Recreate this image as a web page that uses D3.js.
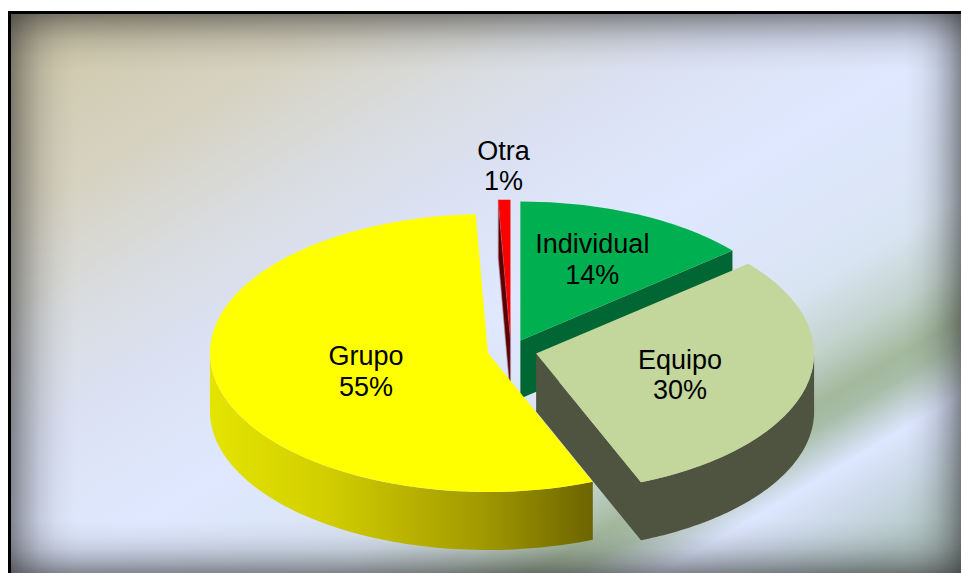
<!DOCTYPE html>
<html>
<head>
<meta charset="utf-8">
<script src="https://cdn.jsdelivr.net/npm/d3@7"></script>
<style>
  html, body { margin: 0; padding: 0; background: #fff; overflow: hidden; }
  svg { display: block; }
  text { font-family: "Liberation Sans", Arial, sans-serif; }
</style>
</head>
<body>
<div id="chart"></div>
<script>
// Data (labels round to 14 / 30 / 55 / 1 %)
const categories = ['Individual', 'Equipo', 'Grupo', 'Otra'];
const shares = [13.8, 30, 55.4, 0.7];

const topColors = ['#00b050', '#c3d69b', '#ffff00', '#ff0000'];
const wallColors = ['#006633', '#4f5440', 'url(#grupoWall)', '#5c0000'];

const width = 961, height = 573;
const cx = 511, cy = 350.5;      // pie centre before exploding
const rx = 278, ry = 139;        // radii of the tilted top ellipse
const depth = 58;                // extruded height
const explode = [0.08, 0.093, 0.085, 0.085];
const drawOrder = [3, 0, 1, 2];  // back to front
const labelOffsets = [[72, -87], [144, 15], [-122, 12], [-7, -179]]; // from slice apex, first line
const lineGap = 30.5;

const svg = d3.select('#chart').append('svg')
  .attr('width', width)
  .attr('height', height);

const defs = svg.append('defs');

function linearGrad(id, x1, y1, x2, y2, stops) {
  const g = defs.append('linearGradient')
    .attr('id', id)
    .attr('gradientUnits', 'userSpaceOnUse')
    .attr('x1', x1).attr('y1', y1)
    .attr('x2', x2).attr('y2', y2);
  stops.forEach(s => {
    g.append('stop')
      .attr('offset', s[0])
      .attr('stop-color', s[1])
      .attr('stop-opacity', s[2] === undefined ? 1 : s[2]);
  });
}

// Slide background: diagonal wash with a green band low on the right
linearGrad('wash', 0, 0, 510, 860, [
  [0.05, '#cfc8aa'],
  [0.19, '#d6d2c0'],
  [0.29, '#d9dbdc'],
  [0.39, '#dbe1f2'],
  [0.52, '#dfe8ff'],
  [0.66, '#d9e4f2'],
  [0.72, '#c2d2cc'],
  [0.765, '#a3b89d'],
  [0.785, '#a8bda8'],
  [0.83, '#dde6ff'],
  [0.93, '#b4c7c6'],
  [1, '#a8bcb6']
]);

// Dark soft edges
const edge = '#2e2e2e';
const fade = [[0, edge, 0.52], [0.2, edge, 0.33], [0.45, edge, 0.15], [0.7, edge, 0.05], [1, edge, 0]];
linearGrad('edgeLeft', 11, 0, 75, 0, fade);
linearGrad('edgeRight', 961, 0, 905, 0, fade);
linearGrad('edgeTop', 0, 14, 0, 72, fade);
linearGrad('edgeBottom', 0, 573, 0, 520, fade);

linearGrad('grupoWall', 210, 0, 596, 0, [
  [0, '#e4e400'],
  [0.3, '#d2ce00'],
  [0.7, '#a29a00'],
  [1, '#6b6300']
]);

// Frame
svg.append('rect').attr('x', 8).attr('y', 11).attr('width', width - 8).attr('height', height - 11).attr('fill', '#000');
svg.append('rect').attr('x', 11).attr('y', 14).attr('width', width - 11).attr('height', height - 14).attr('fill', 'url(#wash)');
['edgeLeft', 'edgeRight', 'edgeTop', 'edgeBottom'].forEach(id => {
  svg.append('rect').attr('x', 11).attr('y', 14).attr('width', width - 11).attr('height', height - 14).attr('fill', `url(#${id})`);
});

// Pie angles
const pie = d3.pie().sort(null).value(d => d);
const arcs = pie(shares);

const arc = d3.arc().innerRadius(0).outerRadius(rx);

// Point on the top rim of a slice
const rimX = (a, o) => o[0] + rx * Math.sin(a);
const rimY = (a, o) => o[1] - ry * Math.cos(a);

const wallArea = d3.area()
  .x(d => rimX(d.a, d.o))
  .y0(d => rimY(d.a, d.o))
  .y1(d => rimY(d.a, d.o) + depth);

const line = d3.line();

// Apex of each exploded slice
const apexes = arcs.map((d, i) => {
  const mid = (d.startAngle + d.endAngle) / 2;
  return [cx + explode[i] * rx * Math.sin(mid), cy - explode[i] * ry * Math.cos(mid)];
});

// The flat cut wall of a slice, from apex to rim at angle a
function cutWall(a, o) {
  const x = rimX(a, o), y = rimY(a, o);
  return line([[o[0], o[1]], [x, y], [x, y + depth], [o[0], o[1] + depth]]) + 'Z';
}

const slices = svg.append('g').attr('class', 'slices');

drawOrder.forEach(i => {
  const d = arcs[i], o = apexes[i];
  const g = slices.append('g').attr('class', 'slice');

  // cut walls that face the viewer
  if (Math.sin(d.endAngle) > 0.001) {
    g.append('path').attr('d', cutWall(d.endAngle, o)).attr('fill', wallColors[i]);
  }
  if (Math.sin(d.startAngle) < -0.001) {
    g.append('path')
      .attr('d', cutWall(d.startAngle, o))
      .attr('fill', wallColors[i])
      .attr('stroke', '#b08a9c')
      .attr('stroke-opacity', 0.6)
      .attr('stroke-width', 1.2);
  }

  // outer wall, only the front half of the rim shows
  const a0 = Math.max(d.startAngle, Math.PI / 2);
  const a1 = Math.min(d.endAngle, Math.PI * 1.5);
  if (a1 > a0) {
    const samples = d3.range(0, 81).map(k => ({ a: a0 + (a1 - a0) * k / 80, o: o }));
    g.append('path').attr('d', wallArea(samples)).attr('fill', wallColors[i]);
  }

  // top face
  g.append('path')
    .attr('d', arc(d))
    .attr('transform', `translate(${o[0]},${o[1]}) scale(1,${ry / rx})`)
    .attr('fill', topColors[i]);
});

// Labels
const pct = d3.format('.0%');
const labels = svg.append('g').attr('class', 'labels')
  .attr('text-anchor', 'middle')
  .attr('font-size', 27)
  .attr('fill', '#000');

categories.forEach((name, i) => {
  const x = apexes[i][0] + labelOffsets[i][0];
  const y = apexes[i][1] + labelOffsets[i][1];
  labels.append('text').attr('x', x).attr('y', y).text(name);
  labels.append('text').attr('x', x).attr('y', y + lineGap).text(pct(shares[i] / d3.sum(shares)));
});
</script>
</body>
</html>
